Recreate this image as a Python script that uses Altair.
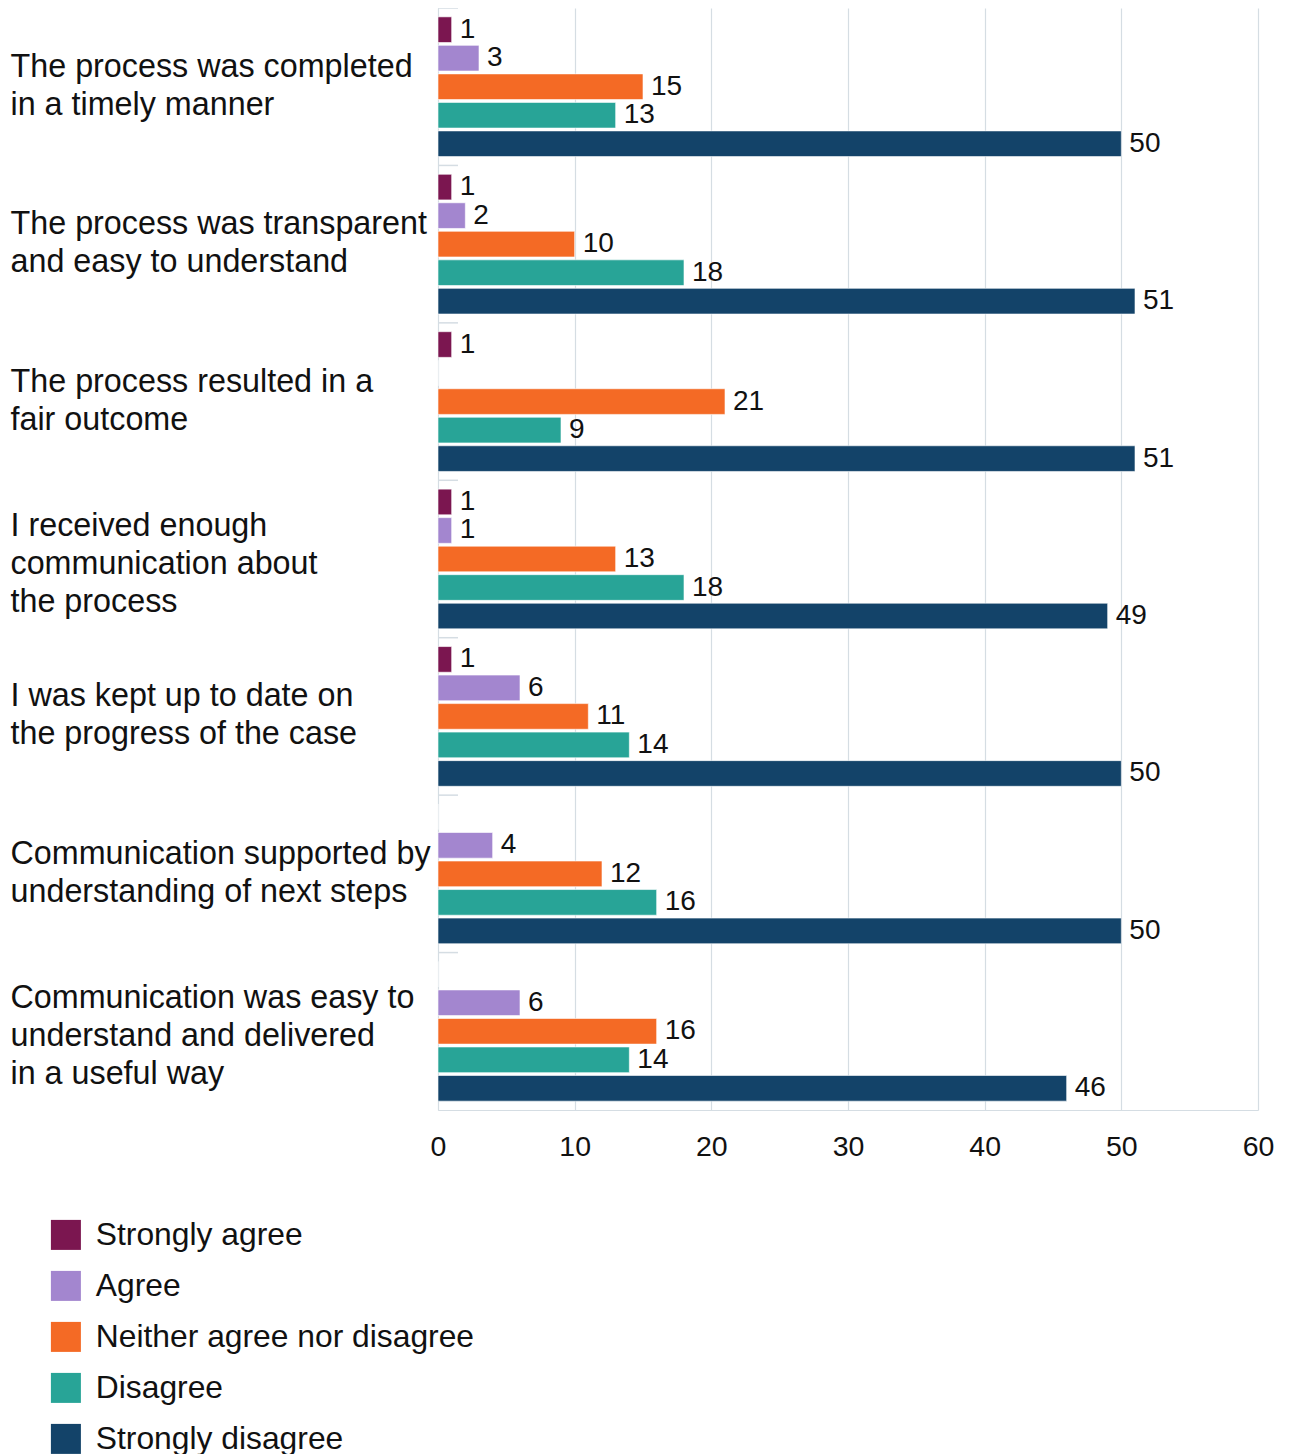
import altair as alt
import pandas as pd

questions = [
    "The process was completed|in a timely manner",
    "The process was transparent|and easy to understand",
    "The process resulted in a|fair outcome",
    "I received enough|communication about|the process",
    "I was kept up to date on|the progress of the case",
    "Communication supported by|understanding of next steps",
    "Communication was easy to|understand and delivered|in a useful way",
]
responses = ["Strongly agree", "Agree", "Neither agree nor disagree", "Disagree", "Strongly disagree"]
colors = ["#7b1650", "#a386cf", "#f46a25", "#28a497", "#134369"]

strongly_agree = [1, 1, 1, 1, 1, 0, 0]
agree = [3, 2, 0, 1, 6, 4, 6]
neither = [15, 10, 21, 13, 11, 12, 16]
disagree = [13, 18, 9, 18, 14, 16, 14]
strongly_disagree = [50, 51, 51, 49, 50, 50, 46]

series = [strongly_agree, agree, neither, disagree, strongly_disagree]
rows = []
for r, vals in zip(responses, series):
    for q, v in zip(questions, vals):
        rows.append({"question": q, "response": r, "value": v})
df = pd.DataFrame(rows)
qdf = pd.DataFrame({"question": questions})

FONT = "Liberation Sans"

y_enc = alt.Y(
    "question:N",
    sort=questions,
    scale=alt.Scale(paddingInner=0, paddingOuter=0),
    axis=alt.Axis(
        title=None,
        labelExpr="split(datum.label, '|')",
        labelAlign="left",
        labelBaseline="middle",
        labelPadding=428,
        labelLimit=600,
        labelFontSize=32.3,
        labelLineHeight=38,
        labelFont=FONT,
        labelColor="#111111",
        labelOffset=alt.condition(
            "length(split(datum.value, '|')) == 3", alt.value(-33), alt.value(-20)
        ),
        ticks=False,
        domain=True,
        domainColor="#d5dde3",
        grid=False,
    ),
)
yoff = alt.YOffset(
    "response:N",
    sort=responses,
    scale=alt.Scale(domain=responses, paddingInner=0.1, paddingOuter=0.31),
)
x_enc = alt.X(
    "value:Q",
    scale=alt.Scale(domain=[0, 60]),
    axis=alt.Axis(
        title=None,
        values=[0, 10, 20, 30, 40, 50, 60],
        labelFontSize=28.5,
        labelFont=FONT,
        labelColor="#111111",
        labelPadding=22,
        labelFlush=False,
        ticks=False,
        domainColor="#d5dde3",
        gridColor="#d5dde3",
        gridWidth=1.2,
    ),
)

bars = alt.Chart(df).mark_bar(stroke="white", strokeWidth=0.6).encode(
    y=y_enc,
    yOffset=yoff,
    x=x_enc,
    color=alt.Color(
        "response:N",
        sort=responses,
        scale=alt.Scale(domain=responses, range=colors),
        legend=alt.Legend(
            title=None,
            orient="none",
            legendX=-388,
            legendY=1211,
            direction="vertical",
            symbolType="square",
            symbolSize=900,
            symbolStrokeWidth=0,
            labelFontSize=31.8,
            labelFont=FONT,
            labelColor="#111111",
            labelOffset=14,
            rowPadding=18,
            labelLimit=800,
        ),
    ),
)

labels = alt.Chart(df).transform_filter("datum.value > 0").mark_text(
    align="left", baseline="middle", dx=8, fontSize=28, font=FONT, color="#111111"
).encode(
    y=alt.Y("question:N", sort=questions),
    yOffset=yoff,
    x="value:Q",
    text="value:Q",
)

bounds = alt.Chart(qdf).mark_rule(color="#d5dde3", strokeWidth=1.5).encode(
    y=alt.Y("question:N", sort=questions, bandPosition=0),
    x=alt.value(0),
    x2=alt.value(20),
)

chart = alt.layer(bars, labels, bounds).properties(
    width=820,
    height=1102,
    autosize="none",
    padding={"left": 430, "top": 0, "right": 24, "bottom": 346},
).configure_view(stroke=None)

chart.save("out.html", embed_options={"renderer": "svg", "actions": False})
